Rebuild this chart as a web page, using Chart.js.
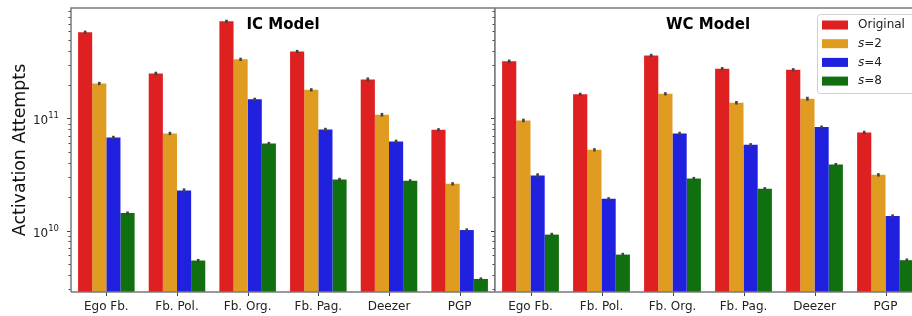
<!DOCTYPE html>
<html>
<head>
<meta charset="utf-8">
<script src="https://cdn.jsdelivr.net/npm/chart.js@4.4.1/dist/chart.umd.min.js"></script>
<style>
  body { margin: 0; background: #fff; }
  #wrap { position: relative; width: 912px; height: 316px; overflow: hidden; background: #fff; }
  canvas { position: absolute; top: 0; }
  #icChart { left: 0; }
  #wcChart { left: 485px; }
</style>
</head>
<body>
<div id="wrap">
  <canvas id="icChart" width="495" height="316"></canvas>
  <canvas id="wcChart" width="436" height="316"></canvas>
</div>
<script>
// categories and series
const categories = ['Ego Fb.', 'Fb. Pol.', 'Fb. Org.', 'Fb. Pag.', 'Deezer', 'PGP'];
const seriesNames = ['Original', 's=2', 's=4', 's=8'];
const seriesColors = ['#df2020', '#df9c20', '#2020df', '#107010'];

// IC model - activation attempts
const icOriginal = [5.87e11, 2.52e11, 7.35e11, 3.96e11, 2.23e11, 7.93e10];
const icS2 = [2.05e11, 7.35e10, 3.37e11, 1.80e11, 1.08e11, 2.61e10];
const icS4 = [6.77e10, 2.28e10, 1.48e11, 7.98e10, 6.24e10, 1.01e10];
const icS8 = [1.43e10, 5.4e9, 5.98e10, 2.85e10, 2.78e10, 3.7e9];
// IC error (half width)
const icOriginalErr = [2e10, 9e9, 2.5e10, 1.3e10, 9e9, 2.6e9];
const icS2Err = [7e9, 2.5e9, 1.1e10, 6e9, 4e9, 9e8];
const icS4Err = [2.3e9, 1e9, 5e9, 2.7e9, 2.2e9, 3.5e8];
const icS8Err = [5e8, 1.8e8, 2e9, 1e9, 9e8, 1.2e8];

// WC model - activation attempts
const wcOriginal = [3.23e11, 1.64e11, 3.65e11, 2.78e11, 2.72e11, 7.5e10];
const wcS2 = [9.6e10, 5.25e10, 1.66e11, 1.38e11, 1.50e11, 3.14e10];
const wcS4 = [3.1e10, 1.92e10, 7.35e10, 5.82e10, 8.37e10, 1.35e10];
const wcS8 = [9.2e9, 6.1e9, 2.91e10, 2.36e10, 3.88e10, 5.44e9];
const wcOriginalErr = [1.2e10, 5.5e9, 1.2e10, 9e9, 9e9, 2.5e9];
const wcS2Err = [3.5e9, 1.8e9, 5.5e9, 5e9, 6e9, 1.1e9];
const wcS4Err = [1.4e9, 6.5e8, 2.5e9, 2e9, 2.8e9, 4.5e8];
const wcS8Err = [3.5e8, 2.3e8, 1e9, 8e8, 1.3e9, 1.9e8];

// y axis
const yMin = 2.83e9;
const yMax = 9.66e11;
const yMajorTicks = [1e10, 1e11];
const yMajorExponents = ['10', '11'];
const yMinorTicks = [3e9, 4e9, 5e9, 6e9, 7e9, 8e9, 9e9,
  2e10, 3e10, 4e10, 5e10, 6e10, 7e10, 8e10, 9e10,
  2e11, 3e11, 4e11, 5e11, 6e11, 7e11, 8e11, 9e11];
const yTitle = 'Activation Attempts';

const FONT = 'DejaVu Sans';
const spineColor = '#7a7a7a';

// draws error bars, frame, tick marks, y labels, panel title and legend
const panelDecor = {
    id: 'panelDecor',
    afterDatasetsDraw(chart, args, opts) {
        const ctx = chart.ctx;
        const a = chart.chartArea;
        const y = chart.scales.y;
        const x = chart.scales.x;
        const off = opts.offsetX; // page x of canvas left
        ctx.save();

        // error bars
        ctx.strokeStyle = '#424242';
        ctx.lineWidth = 2.6;
        chart.data.datasets.forEach((ds, i) => {
            const meta = chart.getDatasetMeta(i);
            meta.data.forEach((bar, j) => {
                const v = ds.data[j], e = ds.err[j];
                ctx.beginPath();
                ctx.moveTo(bar.x, y.getPixelForValue(v - e));
                ctx.lineTo(bar.x, y.getPixelForValue(v + e));
                ctx.stroke();
            });
        });

        // tick marks
        ctx.strokeStyle = '#444';
        ctx.lineWidth = 1;
        yMajorTicks.forEach(v => {
            const py = Math.round(y.getPixelForValue(v)) + 0.5;
            ctx.beginPath(); ctx.moveTo(a.left - 4, py); ctx.lineTo(a.left, py); ctx.stroke();
        });
        yMinorTicks.forEach(v => {
            const py = Math.round(y.getPixelForValue(v)) + 0.5;
            ctx.beginPath(); ctx.moveTo(a.left - 2.5, py); ctx.lineTo(a.left, py); ctx.stroke();
        });
        categories.forEach((c, i) => {
            const px = Math.round(x.getPixelForValue(i)) + 0.5;
            ctx.beginPath(); ctx.moveTo(px, a.bottom); ctx.lineTo(px, a.bottom + 4); ctx.stroke();
        });

        // frame
        ctx.strokeStyle = spineColor;
        ctx.lineWidth = 1.5;
        ctx.beginPath();
        ctx.moveTo(a.left, a.bottom);
        ctx.lineTo(a.left, a.top);
        ctx.lineTo(a.right, a.top);
        if (opts.rightSpine) ctx.lineTo(a.right, a.bottom);
        else ctx.moveTo(a.right, a.bottom);
        ctx.lineTo(a.left, a.bottom);
        ctx.stroke();

        // y tick labels (10 with superscript exponent) and y title
        if (opts.yLabels) {
            ctx.fillStyle = '#222';
            ctx.textBaseline = 'alphabetic';
            ctx.textAlign = 'left';
            yMajorTicks.forEach((v, i) => {
                const py = y.getPixelForValue(v);
                ctx.font = '8.5px ' + FONT;
                const ew = ctx.measureText(yMajorExponents[i]).width;
                ctx.font = '12px ' + FONT;
                const bw = ctx.measureText('10').width;
                const x0 = a.left - 12 - ew - bw;
                ctx.fillText('10', x0, py + 6);
                ctx.font = '8.5px ' + FONT;
                ctx.fillText(yMajorExponents[i], x0 + bw, py);
            });
            ctx.save();
            ctx.translate(25, (a.top + a.bottom) / 2);
            ctx.rotate(-Math.PI / 2);
            ctx.textAlign = 'center';
            ctx.font = '17.4px ' + FONT;
            ctx.fillStyle = '#111';
            ctx.fillText(yTitle, 0, 0);
            ctx.restore();
        }

        // panel title
        ctx.fillStyle = '#000';
        ctx.font = 'bold 15px ' + FONT;
        ctx.textAlign = 'center';
        ctx.textBaseline = 'alphabetic';
        ctx.fillText(opts.title, (a.left + a.right) / 2, 29);

        // legend
        if (opts.legend) {
            const bx = 817 - off, by = 14, bw = 115, bh = 79;
            ctx.fillStyle = 'rgba(255,255,255,0.85)';
            ctx.strokeStyle = '#d0d0d0';
            ctx.lineWidth = 1;
            ctx.beginPath();
            ctx.roundRect(bx + 0.5, by + 0.5, bw, bh, 3);
            ctx.fill();
            ctx.stroke();
            ctx.textAlign = 'left';
            ctx.textBaseline = 'middle';
            seriesNames.forEach((name, i) => {
                const ry = 25 + i * 18.7;
                ctx.fillStyle = seriesColors[i];
                ctx.fillRect(822 - off, ry - 4.5, 26, 9);
                ctx.fillStyle = '#222';
                let tx = 858 - off;
                if (name.startsWith('s=')) {
                    ctx.font = 'italic 12px ' + FONT;
                    ctx.fillText('s', tx, ry);
                    tx += ctx.measureText('s').width;
                    ctx.font = '12px ' + FONT;
                    ctx.fillText(name.slice(1), tx, ry);
                } else {
                    ctx.font = '12px ' + FONT;
                    ctx.fillText(name, tx, ry);
                }
            });
        }
        ctx.restore();
    }
};

function makeDatasets(values, errs) {
    return values.map((vals, i) => ({
        label: seriesNames[i],
        data: vals,
        err: errs[i],
        backgroundColor: seriesColors[i],
        borderWidth: 0,
        barPercentage: 1.0,
        categoryPercentage: 0.8
    }));
}

function makeChart(canvasId, title, values, errs, cfg) {
    return new Chart(document.getElementById(canvasId), {
        type: 'bar',
        data: {
            labels: categories,
            datasets: makeDatasets(values, errs)
        },
        options: {
            responsive: false,
            animation: false,
            layout: { padding: { top: 8, left: 0, right: 0, bottom: 0 } },
            plugins: {
                legend: { display: false },
                tooltip: { enabled: false },
                panelDecor: {
                    title: title,
                    rightSpine: cfg.rightSpine,
                    legend: cfg.legend,
                    yLabels: cfg.yLabels,
                    offsetX: cfg.offsetX
                }
            },
            scales: {
                x: {
                    grid: { display: false, drawTicks: false },
                    border: { display: false },
                    ticks: {
                        font: { family: FONT, size: 12 },
                        color: '#222',
                        padding: 8,
                        maxRotation: 0,
                        autoSkip: false
                    },
                    afterFit: s => { s.height = 24; s.paddingLeft = 0; s.paddingRight = 0; }
                },
                y: {
                    type: 'logarithmic',
                    min: yMin,
                    max: yMax,
                    grid: { display: false, drawTicks: false },
                    border: { display: false },
                    ticks: { display: false },
                    afterFit: s => { s.width = cfg.axisWidth; s.paddingTop = 0; s.paddingBottom = 0; }
                }
            }
        },
        plugins: [panelDecor]
    });
}

makeChart('icChart', 'IC Model',
    [icOriginal, icS2, icS4, icS8],
    [icOriginalErr, icS2Err, icS4Err, icS8Err],
    { axisWidth: 71, rightSpine: true, legend: false, yLabels: true, offsetX: 0 });

makeChart('wcChart', 'WC Model',
    [wcOriginal, wcS2, wcS4, wcS8],
    [wcOriginalErr, wcS2Err, wcS4Err, wcS8Err],
    { axisWidth: 10, rightSpine: false, legend: true, yLabels: false, offsetX: 485 });
</script>
</body>
</html>
